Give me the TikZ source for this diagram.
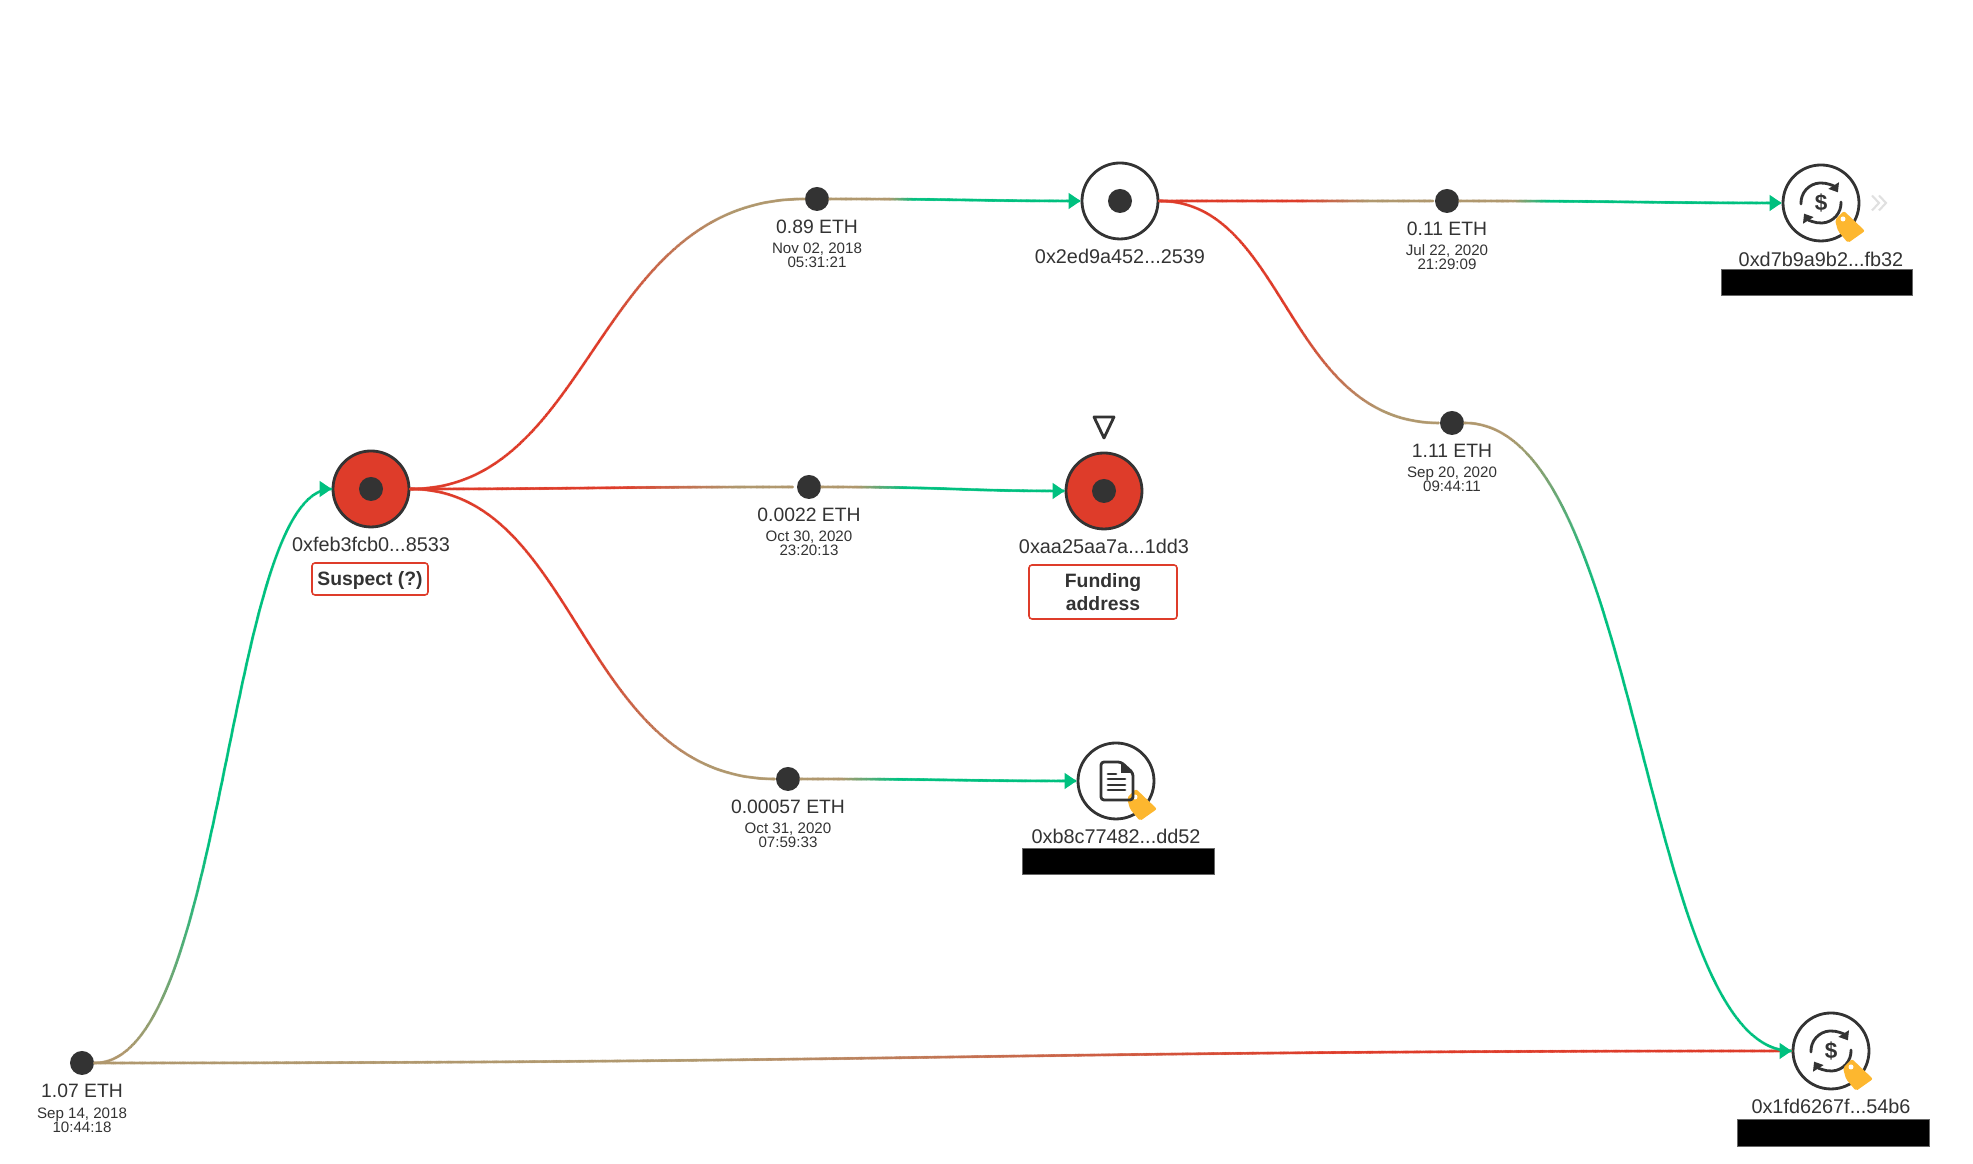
\documentclass[tikz,border=0pt]{standalone}
\usepackage{fontspec}
\setmainfont{Liberation Sans}
\usetikzlibrary{arrows.meta,decorations.markings}

\definecolor{edgered}{RGB}{222,60,42}
\definecolor{edgetan}{RGB}{176,152,110}
\definecolor{edgegreen}{RGB}{0,192,127}
\definecolor{inkdark}{RGB}{51,51,51}
\definecolor{tagyellow}{RGB}{253,183,47}

\tikzset{
  addr/.style={circle, draw=inkdark, fill=white, line width=0.8pt, minimum size=0.76cm, inner sep=0pt},
  suspectaddr/.style={addr, fill=edgered},
  txdot/.style={circle, fill=inkdark, minimum size=0.24cm, inner sep=0pt},
  amount/.style={text=inkdark, font=\fontsize{5.5}{6.6}\selectfont, inner sep=0pt},
  addrlabel/.style={text=inkdark, font=\fontsize{5.65}{6.6}\selectfont, inner sep=0pt},
  txdate/.style={text=inkdark, font=\fontsize{4.3}{4}\selectfont, align=center, inner sep=0pt},
  flag/.style={draw=edgered, line width=0.45pt, rounded corners=0.03cm, text=inkdark, align=center, inner sep=0pt, font=\fontsize{5.5}{6.5}\selectfont\bfseries},
  redacted/.style={draw=black!60, line width=0.2pt, fill=black},
  iconline/.style={draw=inkdark, line width=0.8pt, line cap=round},
  gradedge/.style n args={4}{postaction={decorate, decoration={markings,
    mark=between positions 0 and 1 step 0.3pt with {
      \pgfmathsetmacro\mixval{max(0,min(100,(\pgfkeysvalueof{/pgf/decoration/mark info/distance from start}/\pgfdecoratedpathlength*100-#3)/(#4-#3)*100))}
      \fill[#2!\mixval!#1] (0,0) circle (0.44pt);
    }}}},
  tipend/.style={postaction={decorate, decoration={markings, mark=at position 0.9999 with {\arrow{Triangle[length=0.12cm,width=0.16cm,color=edgegreen]}}}}}
}

\newcommand{\pricetag}[2]{
  \begin{scope}[shift={(#1)}, xshift=#2cm]
    \fill[tagyellow, rounded corners=0.02cm] (0.14,-0.17) -- (0.23,-0.08) -- (0.44,-0.28) -- (0.27,-0.40) -- (0.17,-0.28) -- cycle;
    \fill[white] (0.22,-0.16) circle (0.025);
  \end{scope}
}
\newcommand{\swapicon}[1]{
  \begin{scope}[shift={(#1)}]
    \draw[iconline, -{Triangle[length=0.08cm,width=0.12cm]}] (-0.2,-0.01) arc (183:32:0.2);
    \draw[iconline, -{Triangle[length=0.08cm,width=0.12cm]}] (0.2,0.01) arc (3:-148:0.2);
    \node[text=inkdark, inner sep=0pt, font=\fontsize{6.4}{7}\selectfont\bfseries] (dollar) at (0,0) {\$};
  \end{scope}
}

\begin{document}
\begin{tikzpicture}
\useasboundingbox (0,0) rectangle (19.73,11.64);

% addresses
\node[suspectaddr] (sus) at (3.71,6.75) {};
\node[addr] (ctwo) at (11.20,9.63) {};
\node[suspectaddr] (fund) at (11.04,6.73) {};
\node[addr] (exone) at (18.21,9.61) {};
\node[addr] (docu) at (11.16,3.83) {};
\node[addr] (extwo) at (18.31,1.13) {};
\node[txdot] (susdot) at (sus) {};
\node[txdot] (ctwodot) at (ctwo) {};
\node[txdot] (funddot) at (fund) {};

% transfers
\node[txdot] (txa) at (0.82,1.01) {};
\node[amount] (txaamt) at (0.82,0.73) {1.07 ETH};
\node[txdate] (txadate) at (0.82,0.44) {Sep 14, 2018\\10:44:18};
\node[txdot] (txb) at (8.17,9.65) {};
\node[amount] (txbamt) at (8.17,9.37) {0.89 ETH};
\node[txdate] (txbdate) at (8.17,9.09) {Nov 02, 2018\\05:31:21};
\node[txdot] (txc) at (14.47,9.63) {};
\node[amount] (txcamt) at (14.47,9.35) {0.11 ETH};
\node[txdate] (txcdate) at (14.47,9.07) {Jul 22, 2020\\21:29:09};
\node[txdot] (txd) at (14.52,7.41) {};
\node[amount] (txdamt) at (14.52,7.13) {1.11 ETH};
\node[txdate] (txddate) at (14.52,6.85) {Sep 20, 2020\\09:44:11};
\node[txdot] (txe) at (8.09,6.77) {};
\node[amount] (txeamt) at (8.09,6.49) {0.0022 ETH};
\node[txdate] (txedate) at (8.09,6.21) {Oct 30, 2020\\23:20:13};
\node[txdot] (txf) at (7.88,3.85) {};
\node[amount] (txfamt) at (7.88,3.57) {0.00057 ETH};
\node[txdate] (txfdate) at (7.88,3.29) {Oct 31, 2020\\07:59:33};

% edges
\path[gradedge={edgetan}{edgered}{35}{70}] (txa) .. controls +(8.75,0) and +(-8.75,0) .. (extwo);
\path[gradedge={edgetan}{edgegreen}{5}{40}, tipend] (txa) .. controls +(1.45,0) and +(-1.45,0) .. (sus);
\path[gradedge={edgered}{edgetan}{50}{85}] (sus) .. controls +(2.23,0) and +(-2.23,0) .. (txb);
\path[gradedge={edgetan}{edgegreen}{24}{34}, tipend] (txb) .. controls +(1.5,0) and +(-1.5,0) .. (ctwo);
\path[gradedge={edgered}{edgetan}{51}{76}] (ctwo) .. controls +(1.6,0) and +(-1.6,0) .. (txc);
\path[gradedge={edgetan}{edgegreen}{17}{28}, tipend] (txc) .. controls +(1.87,0) and +(-1.87,0) .. (exone);
\path[gradedge={edgered}{edgetan}{50}{85}] (ctwo) .. controls +(1.66,0) and +(-1.66,0) .. (txd);
\path[gradedge={edgetan}{edgegreen}{6}{32}, tipend] (txd) .. controls +(1.9,0) and +(-1.9,0) .. (extwo);
\path[gradedge={edgered}{edgetan}{55}{85}] (sus) .. controls +(2.19,0) and +(-2.19,0) .. (txe);
\path[gradedge={edgetan}{edgegreen}{15}{35}, tipend] (txe) .. controls +(1.47,0) and +(-1.47,0) .. (fund);
\path[gradedge={edgered}{edgetan}{50}{85}] (sus) .. controls +(2.08,0) and +(-2.08,0) .. (txf);
\path[gradedge={edgetan}{edgegreen}{15}{35}, tipend] (txf) .. controls +(1.64,0) and +(-1.64,0) .. (docu);

% address labels
\node[addrlabel] (suslbl) at (3.71,6.20) {0xfeb3fcb0...8533};
\node[addrlabel] (ctwolbl) at (11.20,9.08) {0x2ed9a452...2539};
\node[addrlabel] (fundlbl) at (11.04,6.18) {0xaa25aa7a...1dd3};
\node[addrlabel] (exonelbl) at (18.21,9.05) {0xd7b9a9b2...fb32};
\node[addrlabel] (doculbl) at (11.16,3.28) {0xb8c77482...dd52};
\node[addrlabel] (extwolbl) at (18.31,0.58) {0x1fd6267f...54b6};
\node[flag, minimum width=1.16cm, minimum height=0.32cm, text depth=0.01cm] (susflag) at (3.70,5.85) {Suspect (?)};
\node[flag, minimum width=1.48cm, minimum height=0.54cm] (fundflag) at (11.03,5.72) {Funding\\address};

% redactions
\fill[redacted] (17.21,8.95) rectangle (19.12,8.69);
\fill[redacted] (10.22,3.16) rectangle (12.14,2.90);
\fill[redacted] (17.37,0.45) rectangle (19.29,0.18);

% icons
\swapicon{exone.center}
\swapicon{extwo.center}
\pricetag{exone.center}{0}
\pricetag{extwo.center}{-0.02}
\pricetag{docu.center}{-0.03}
\begin{scope}[shift={(docu.center)}]
\draw[iconline, rounded corners=0.03cm, line join=round] (-0.15,0.19) -- (0.05,0.19) -- (0.17,0.08) -- (0.17,-0.19) -- (-0.15,-0.19) -- cycle;
\fill[inkdark] (0.05,0.19) -- (0.17,0.08) -- (0.05,0.08) -- cycle;
\draw[iconline] (-0.08,0.07) -- (0,0.07);
\foreach \yline in {0.02,-0.04,-0.09} {
  \draw[iconline] (-0.08,\yline) -- (0.09,\yline);
}
\end{scope}
\draw[iconline, line join=round] (10.94,7.47) -- (11.14,7.47) -- (11.04,7.26) -- cycle;
\draw[black!12, line width=0.6pt] (18.72,9.685) -- (18.79,9.61) -- (18.72,9.535);
\draw[black!12, line width=0.6pt] (18.79,9.685) -- (18.86,9.61) -- (18.79,9.535);
\end{tikzpicture}
\end{document}
